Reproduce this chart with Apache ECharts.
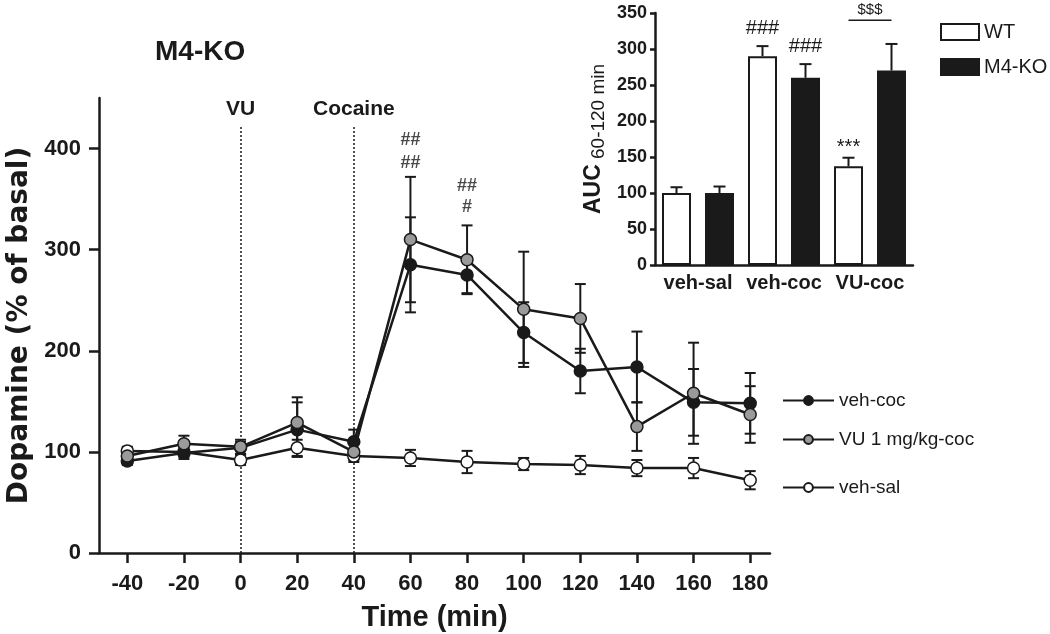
<!DOCTYPE html>
<html><head><meta charset="utf-8">
<script src="https://cdn.jsdelivr.net/npm/echarts@6/dist/echarts.min.js"></script>
<style>html,body{margin:0;padding:0;background:#fff}#c{width:1050px;height:634px}</style>
</head><body><div id="c"></div>
<script>
// ---- main time-course data ----
const times = [-40, -20, 0, 20, 40, 60, 80, 100, 120, 140, 160, 180];
const timeTicks = [-40, -20, 0, 20, 40, 60, 80, 100, 120, 140, 160, 180];
const yTicks = [0, 100, 200, 300, 400];
const vehCoc = [91, 99, 104, 122, 110, 285, 275, 218, 180, 184, 149, 148];
const vehCocErr = [4, 6, 6, 27, 12, 47, 18, 30, 22, 35, 33, 30];
const vuCoc = [96, 108, 105, 129, 100, 310, 290, 241, 232, 125, 158, 137];
const vuCocErr = [6, 8, 7, 25, 8, 62, 34, 57, 34, 24, 50, 28];
const vehSal = [101, 100, 92, 104, 96, 94, 90, 88, 87, 84, 84, 72];
const vehSalErr = [4, 5, 5, 8, 6, 8, 11, 6, 9, 8, 10, 9];
const injections = [{t: 0, name: 'VU'}, {t: 40, name: 'Cocaine'}];
const annT = [60, 60, 80, 80];
const annV = [408, 386, 363, 342];
const annText = ['##', '##', '##', '#'];

// ---- inset AUC data ----
const aucCats = ['veh-sal', 'veh-coc', 'VU-coc'];
const aucWT = [100, 290, 137];
const aucWTErr = [8, 14, 12];
const aucKO = [100, 260, 270];
const aucKOErr = [9, 19, 37];
const aucWTMarks = ['', '###', '***'];
const aucKOMarks = ['', '###', ''];

const FONT = "'Liberation Sans', Arial, sans-serif";
const INK = '#1a1a1a';

const chart = echarts.init(document.getElementById('c'), null, {renderer: 'canvas'});

function errBars(vals, errs) {
  return times.map((t, i) => [t, vals[i], errs[i]]);
}
function errRender(params, api) {
  const x = api.value(0), y = api.value(1), e = api.value(2);
  const top = api.coord([x, y + e]), bot = api.coord([x, y - e]);
  const hw = 5.5;
  const st = {stroke: INK, lineWidth: 2};
  return {type: 'group', children: [
    {type: 'line', shape: {x1: top[0], y1: top[1], x2: bot[0], y2: bot[1]}, style: st},
    {type: 'line', shape: {x1: top[0] - hw, y1: top[1], x2: top[0] + hw, y2: top[1]}, style: st},
    {type: 'line', shape: {x1: bot[0] - hw, y1: bot[1], x2: bot[0] + hw, y2: bot[1]}, style: st}
  ]};
}
const BAR_W = 29, BAR_GAP = 14;
function barErrRender(side) {
  return function (params, api) {
    const i = api.value(0), v = api.value(1), e = api.value(2);
    const base = api.coord([i, v]), top = api.coord([i, v + e]);
    const x = base[0] + side * (BAR_W + BAR_GAP) / 2;
    const st = {stroke: INK, lineWidth: 2};
    return {type: 'group', children: [
      {type: 'line', shape: {x1: x, y1: base[1], x2: x, y2: top[1]}, style: st},
      {type: 'line', shape: {x1: x - 6, y1: top[1], x2: x + 6, y2: top[1]}, style: st}
    ]};
  };
}
function barMarkRender(side, marks) {
  return function (params, api) {
    const i = api.value(0), v = api.value(1), e = api.value(2);
    const top = api.coord([i, v + e]);
    const x = top[0] + side * (BAR_W + BAR_GAP) / 2;
    const txt = marks[i];
    if (!txt) return null;
    const lift = txt.charAt(0) === '*' ? 0 : 8;
    return {type: 'text', x: x, y: top[1] - lift, style: {text: txt, font: "20px " + FONT, fill: INK, align: 'center', verticalAlign: 'bottom'}};
  };
}
function sigRender(params, api) {
  const a = api.coord([2, 0]);
  const off = (BAR_W + BAR_GAP) / 2;
  const y = api.coord([2, 340])[1];
  return {type: 'group', children: [
    {type: 'line', shape: {x1: a[0] - off, y1: y, x2: a[0] + off, y2: y}, style: {stroke: INK, lineWidth: 1.5}},
    {type: 'text', x: a[0], y: y - 3, style: {text: '$$$', font: "15px " + FONT, fill: INK, align: 'center', verticalAlign: 'bottom'}}
  ]};
}

const lineBase = (name, data, fill) => ({
  name, type: 'line', data: times.map((t, i) => [t, data[i]]),
  xAxisIndex: 0, yAxisIndex: 0,
  symbol: 'circle', symbolSize: 12,
  lineStyle: {color: INK, width: 2.5},
  itemStyle: {color: fill, borderColor: INK, borderWidth: 1.5},
  z: 5
});

const axisText = {color: INK, fontFamily: FONT, fontWeight: 'bold'};

const vehSalSeries = lineBase('veh-sal', vehSal, '#ffffff');
vehSalSeries.markLine = {
  silent: true, symbol: 'none',
  lineStyle: {color: INK, type: [2, 2], width: 1.5},
  label: {show: true, position: 'end', distance: 6, formatter: p => p.data.name || '', ...axisText, fontSize: 21},
  data: injections.map(inj => [{coord: [inj.t, 0], name: inj.name}, {coord: [inj.t, 423]}])
};

const option = {
  animation: false,
  backgroundColor: '#fff',
  title: {text: 'M4-KO', left: 150, top: 33, textStyle: {...axisText, fontSize: 28}},
  legend: [
    {data: ['veh-coc'], left: 777, top: 386, itemWidth: 51, itemHeight: 11, itemGap: 6, textStyle: {color: INK, fontFamily: FONT, fontSize: 19}},
    {data: ['VU 1 mg/kg-coc'], left: 777, top: 425, itemWidth: 51, itemHeight: 11, itemGap: 6, textStyle: {color: INK, fontFamily: FONT, fontSize: 19}},
    {data: ['veh-sal'], left: 777, top: 473, itemWidth: 51, itemHeight: 11, itemGap: 6, textStyle: {color: INK, fontFamily: FONT, fontSize: 19}},
    {data: ['WT', 'M4-KO'], left: 935, top: 17, orient: 'vertical', icon: 'rect', itemWidth: 38, itemHeight: 16, itemGap: 15, itemStyle: {borderWidth: 2}, textStyle: {color: INK, fontFamily: FONT, fontSize: 20}}
  ],
  grid: [
    {left: 99, right: 280, top: 98, bottom: 81, containLabel: false, outerBoundsMode: 'none'},
    {left: 655, right: 137, top: 13, bottom: 369, containLabel: false, outerBoundsMode: 'none'}
  ],
  xAxis: [
    {type: 'value', gridIndex: 0, min: -50, max: 187,
     name: 'Time (min)', nameLocation: 'middle', nameGap: 50,
     nameTextStyle: {...axisText, fontSize: 29},
     axisLine: {show: true, onZero: false, lineStyle: {color: INK, width: 2.5}},
     axisTick: {show: true, length: 10, lineStyle: {color: INK, width: 2.5}, customValues: timeTicks},
     axisLabel: {...axisText, fontSize: 22, margin: 20, customValues: timeTicks},
     splitLine: {show: false}},
    {type: 'category', gridIndex: 1, data: aucCats,
     axisLine: {show: true, lineStyle: {color: INK, width: 2.5}},
     axisTick: {show: false},
     axisLabel: {...axisText, fontSize: 20, margin: 8, interval: 0, hideOverlap: false},
     splitLine: {show: false}}
  ],
  yAxis: [
    {type: 'value', gridIndex: 0, min: 0, max: 450,
     name: 'Dopamine (% of basal)', nameLocation: 'middle', nameGap: 65,
     nameTextStyle: {color: INK, fontFamily: "'DejaVu Sans', sans-serif", fontWeight: 'bold', fontSize: 28},
     axisLine: {show: true, onZero: false, lineStyle: {color: INK, width: 2.5}},
     axisTick: {show: true, length: 10, lineStyle: {color: INK, width: 2.5}, customValues: yTicks},
     axisLabel: {...axisText, fontSize: 22, margin: 18, customValues: yTicks},
     splitLine: {show: false}},
    {type: 'value', gridIndex: 1, min: 0, max: 350, interval: 50,
     name: '{a|AUC}{b| 60-120 min}', nameLocation: 'middle', nameGap: 50,
     nameTextStyle: {color: INK, fontFamily: FONT, rich: {
       a: {fontSize: 23, fontWeight: 'bold', fontFamily: FONT, color: INK, verticalAlign: 'bottom', lineHeight: 24},
       b: {fontSize: 19, fontFamily: FONT, color: INK, verticalAlign: 'bottom', lineHeight: 24, padding: [0, 0, -3, 0]}
     }},
     axisLine: {show: true, onZero: false, lineStyle: {color: INK, width: 2.5}},
     axisTick: {show: true, length: 5, lineStyle: {color: INK, width: 2.5}},
     axisLabel: {...axisText, fontSize: 18, margin: 8},
     splitLine: {show: false}}
  ],
  series: [
    {type: 'custom', name: 'err-vehcoc', xAxisIndex: 0, yAxisIndex: 0, renderItem: errRender, data: errBars(vehCoc, vehCocErr), z: 3, silent: true},
    {type: 'custom', name: 'err-vucoc', xAxisIndex: 0, yAxisIndex: 0, renderItem: errRender, data: errBars(vuCoc, vuCocErr), z: 3, silent: true},
    {type: 'custom', name: 'err-vehsal', xAxisIndex: 0, yAxisIndex: 0, renderItem: errRender, data: errBars(vehSal, vehSalErr), z: 3, silent: true},
    vehSalSeries,
    lineBase('veh-coc', vehCoc, INK),
    lineBase('VU 1 mg/kg-coc', vuCoc, '#9a9a9a'),
    {type: 'scatter', xAxisIndex: 0, yAxisIndex: 0, symbolSize: 0, silent: true,
     data: annT.map((t, i) => ({value: [t, annV[i]], label: {formatter: annText[i]}})),
     label: {show: true, position: 'inside', color: INK, fontFamily: FONT, fontSize: 18, fontWeight: 'bold'}},
    {type: 'bar', name: 'WT', xAxisIndex: 1, yAxisIndex: 1, data: aucWT, barWidth: BAR_W, barGap: (BAR_GAP / BAR_W * 100) + '%',
     itemStyle: {color: '#ffffff', borderColor: INK, borderWidth: 2}},
    {type: 'bar', name: 'M4-KO', xAxisIndex: 1, yAxisIndex: 1, data: aucKO, barWidth: BAR_W,
     itemStyle: {color: INK, borderColor: INK, borderWidth: 2}},
    {type: 'custom', xAxisIndex: 1, yAxisIndex: 1, renderItem: barErrRender(-1), data: aucWT.map((v, i) => [i, v, aucWTErr[i]]), silent: true, z: 1},
    {type: 'custom', xAxisIndex: 1, yAxisIndex: 1, renderItem: barErrRender(1), data: aucKO.map((v, i) => [i, v, aucKOErr[i]]), silent: true, z: 1},
    {type: 'custom', xAxisIndex: 1, yAxisIndex: 1, renderItem: barMarkRender(-1, aucWTMarks), data: aucWT.map((v, i) => [i, v, aucWTErr[i]]), silent: true},
    {type: 'custom', xAxisIndex: 1, yAxisIndex: 1, renderItem: barMarkRender(1, aucKOMarks), data: aucKO.map((v, i) => [i, v, aucKOErr[i]]), silent: true},
    {type: 'custom', xAxisIndex: 1, yAxisIndex: 1, renderItem: sigRender, data: [[2, 0]], silent: true, clip: false}
  ]
};
chart.setOption(option);
</script></body></html>
